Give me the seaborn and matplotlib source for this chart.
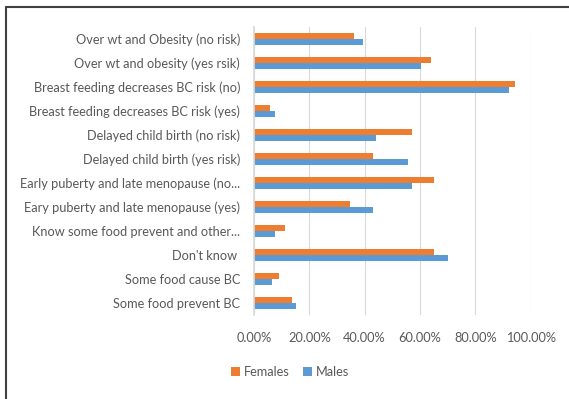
import numpy as np
import pandas as pd
import matplotlib
matplotlib.use("Agg")
import matplotlib.pyplot as plt
import seaborn as sns
from matplotlib.lines import Line2D
from matplotlib.ticker import PercentFormatter

# ── Data ─────────────────────────────────────────────────────────────────
categories = [
    "Over wt and Obesity (no risk)",
    "Over wt and obesity (yes rsik)",
    "Breast feeding decreases BC risk (no)",
    "Breast feeding decreases BC risk (yes)",
    "Delayed child birth (no risk)",
    "Delayed child birth (yes risk)",
    "Early puberty and late menopause (no...",
    "Eary puberty and late menopause (yes)",
    "Know some food prevent and other...",
    "Don't know ",
    "Some food cause BC",
    "Some food prevent BC",
]
females = [36.0, 63.9, 94.2, 5.7, 57.0, 42.9, 65.2, 34.8, 11.2, 65.2, 9.2, 13.7]
males   = [39.5, 60.4, 92.0, 7.7, 44.2, 55.8, 57.0, 42.9, 7.7, 70.2, 6.5, 15.1]

df = pd.DataFrame({
    "category": categories * 2,
    "value": females + males,
    "sex": ["Females"] * len(categories) + ["Males"] * len(categories),
})

sns.set_theme(style="white")
plt.rcParams["font.family"] = ["Lato", "DejaVu Sans"]

TXT = "#595959"
palette = {"Females": "#ED7D31", "Males": "#5B9BD5"}

fig = plt.figure(figsize=(5.69, 3.99), dpi=100)
ax_bottom = 315
ax = fig.add_axes([254 / 569, 1 - ax_bottom / 399, (530.7 - 254) / 569, (ax_bottom - 27) / 399])

sns.barplot(data=df, y="category", x="value", hue="sex", order=categories,
            hue_order=["Females", "Males"], palette=palette, width=0.54,
            saturation=1, orient="h", ax=ax, legend=True, linewidth=0)

ax.set_xlim(0, 100)
ax.set_xticks(np.arange(0, 101, 20))
ax.xaxis.set_major_formatter(PercentFormatter(decimals=2))
ax.grid(axis="x", color="#D9D9D9", linewidth=0.8)
ax.set_axisbelow(True)
for s in ["top", "right", "bottom"]:
    ax.spines[s].set_visible(False)
ax.spines["left"].set_color("#D9D9D9")
ax.set_xlabel("")
ax.set_ylabel("")
ax.tick_params(axis="both", length=0, colors=TXT, labelsize=9.2)
ax.tick_params(axis="x", pad=12)
ax.tick_params(axis="y", pad=10)

ax.legend(loc="center", bbox_to_anchor=(0.13, -(372 - ax_bottom) / 288), ncol=2,
          frameon=False, fontsize=9.2, labelcolor=TXT, handlelength=0.7,
          handleheight=0.7, handletextpad=0.3, columnspacing=1.0)

# frame around the chart (left and top edges only visible)
fig.add_artist(Line2D([5.5 / 569, 5.5 / 569], [0, 1 - 7 / 399],
                      transform=fig.transFigure, color="#404040", linewidth=1.5))
fig.add_artist(Line2D([5.5 / 569, 1], [1 - 7 / 399, 1 - 7 / 399],
                      transform=fig.transFigure, color="#404040", linewidth=1.5))

plt.savefig("out.png", dpi=100)
plt.close()
